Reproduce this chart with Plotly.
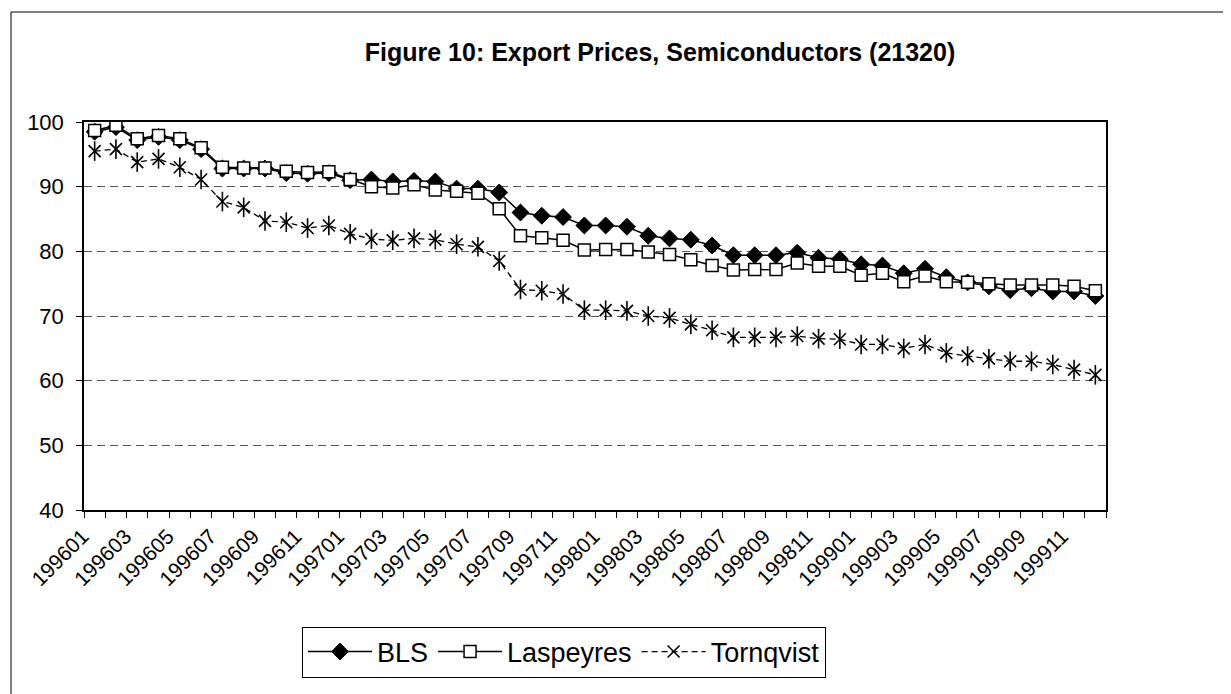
import plotly.graph_objects as go

months = [f"{y}{m:02d}" for y in (1996, 1997, 1998, 1999) for m in range(1, 13)]

bls = [98.5, 99.2, 97.2, 97.7, 97.2, 95.8, 92.8, 92.8, 92.8, 92.1, 92.0, 92.1,
       91.0, 91.1, 90.8, 90.9, 90.8, 89.7, 89.7, 89.1, 86.0, 85.5, 85.3, 84.0,
       84.0, 83.8, 82.4, 82.0, 81.8, 80.9, 79.4, 79.4, 79.4, 79.8, 79.0, 78.8,
       78.0, 77.8, 76.6, 77.3, 76.0, 75.2, 74.6, 74.0, 74.3, 73.8, 73.8, 73.1]

laspeyres = [98.7, 99.5, 97.4, 97.9, 97.4, 96.0, 93.0, 92.9, 92.9, 92.4, 92.2, 92.3,
             91.1, 90.0, 89.8, 90.3, 89.5, 89.3, 89.0, 86.6, 82.4, 82.1, 81.7, 80.2,
             80.3, 80.3, 79.9, 79.5, 78.7, 77.8, 77.1, 77.2, 77.2, 78.2, 77.7, 77.7,
             76.3, 76.6, 75.3, 76.2, 75.3, 75.2, 75.0, 74.8, 74.8, 74.8, 74.6, 73.9]

tornqvist = [95.5, 95.8, 93.8, 94.3, 93.0, 91.1, 87.7, 86.8, 84.7, 84.5, 83.6, 84.0,
             82.7, 81.9, 81.7, 82.0, 81.8, 81.1, 80.7, 78.5, 74.1, 73.9, 73.4, 70.9,
             70.9, 70.8, 70.0, 69.7, 68.7, 67.8, 66.7, 66.7, 66.7, 66.9, 66.5, 66.4,
             65.6, 65.6, 65.0, 65.6, 64.3, 63.8, 63.4, 63.0, 63.0, 62.5, 61.7, 60.9]

tick_text = [m if i % 2 == 0 else "" for i, m in enumerate(months)]

FONT = "Liberation Sans, Arial, sans-serif"

fig = go.Figure()
fig.add_trace(go.Scatter(
    x=months, y=bls, name="BLS", mode="lines+markers",
    line=dict(color="black", width=1.5),
    marker=dict(symbol="diamond", size=13, color="black", line=dict(color="black", width=1))))
fig.add_trace(go.Scatter(
    x=months, y=laspeyres, name="Laspeyres", mode="lines+markers",
    line=dict(color="black", width=1.5),
    marker=dict(symbol="square", size=12, color="white", line=dict(color="black", width=1.5))))
fig.add_trace(go.Scatter(
    x=months, y=tornqvist, name="Tornqvist", mode="lines+markers", legendgroup="t",
    line=dict(color="black", width=1.3, dash="6px,4px"),
    marker=dict(symbol="x-thin-open", size=12, color="black", line=dict(color="black", width=1.6))))
fig.add_trace(go.Scatter(
    x=months, y=tornqvist, name="Tornqvist", mode="markers", legendgroup="t", showlegend=False,
    marker=dict(symbol="line-ns-open", size=14, color="black", line=dict(color="black", width=1.6))))

W, H = 1231, 694
L, R, T, B = 76, 133, 114, 192
pw, ph = W - L - R, H - T - B

fig.update_layout(
    width=W, height=H, autosize=False,
    margin=dict(l=L, r=R, t=T, b=B, autoexpand=False),
    paper_bgcolor="white", plot_bgcolor="white",
    font=dict(family=FONT, color="black", size=18),
    title=dict(text="<b>Figure 10: Export Prices, Semiconductors (21320)</b>",
               x=652 / W, xref="container", y=1 - 44 / H, yref="container",
               xanchor="center", yanchor="middle",
               font=dict(family=FONT, size=25, color="black")),
    showlegend=True,
    legend=dict(orientation="h", x=(556 - L) / pw, xanchor="center", xref="paper",
                y=(H - B - 644) / ph, yanchor="middle", yref="paper",
                font=dict(family=FONT, size=27, color="black"),
                bordercolor="black", borderwidth=1, bgcolor="white",
                itemwidth=64, traceorder="normal"),
)

fig.update_xaxes(
    type="category", categoryorder="array", categoryarray=months,
    range=[-0.5, len(months) - 0.5],
    tickmode="array", tickvals=months, ticktext=tick_text,
    tickson="boundaries", ticks="outside", ticklen=6, tickcolor="black", tickwidth=1,
    tickangle=-45, ticklabelshift=-12, ticklabelstandoff=4,
    tickfont=dict(family=FONT, size=21, color="black"),
    showline=True, linecolor="black", linewidth=1.5, mirror=True,
    showgrid=False, zeroline=False, automargin=False,
)
fig.update_yaxes(
    range=[40, 100], dtick=10, tick0=40,
    ticks="outside", ticklen=6, tickcolor="black", tickwidth=1, ticklabelstandoff=8,
    tickfont=dict(family=FONT, size=22, color="black"),
    showline=True, linecolor="black", linewidth=1.5, mirror=True,
    showgrid=True, gridcolor="#555555", gridwidth=1, griddash="8px,5px",
    zeroline=False, automargin=False,
)

# outer chart border
fig.add_shape(type="rect", xref="paper", yref="paper",
              x0=(3 - L) / pw, x1=(1227 - L) / pw,
              y0=(H - B - 690) / ph, y1=(H - B - 4) / ph,
              line=dict(color="black", width=1), fillcolor="rgba(0,0,0,0)", layer="below")

fig.write_html("out.html")
